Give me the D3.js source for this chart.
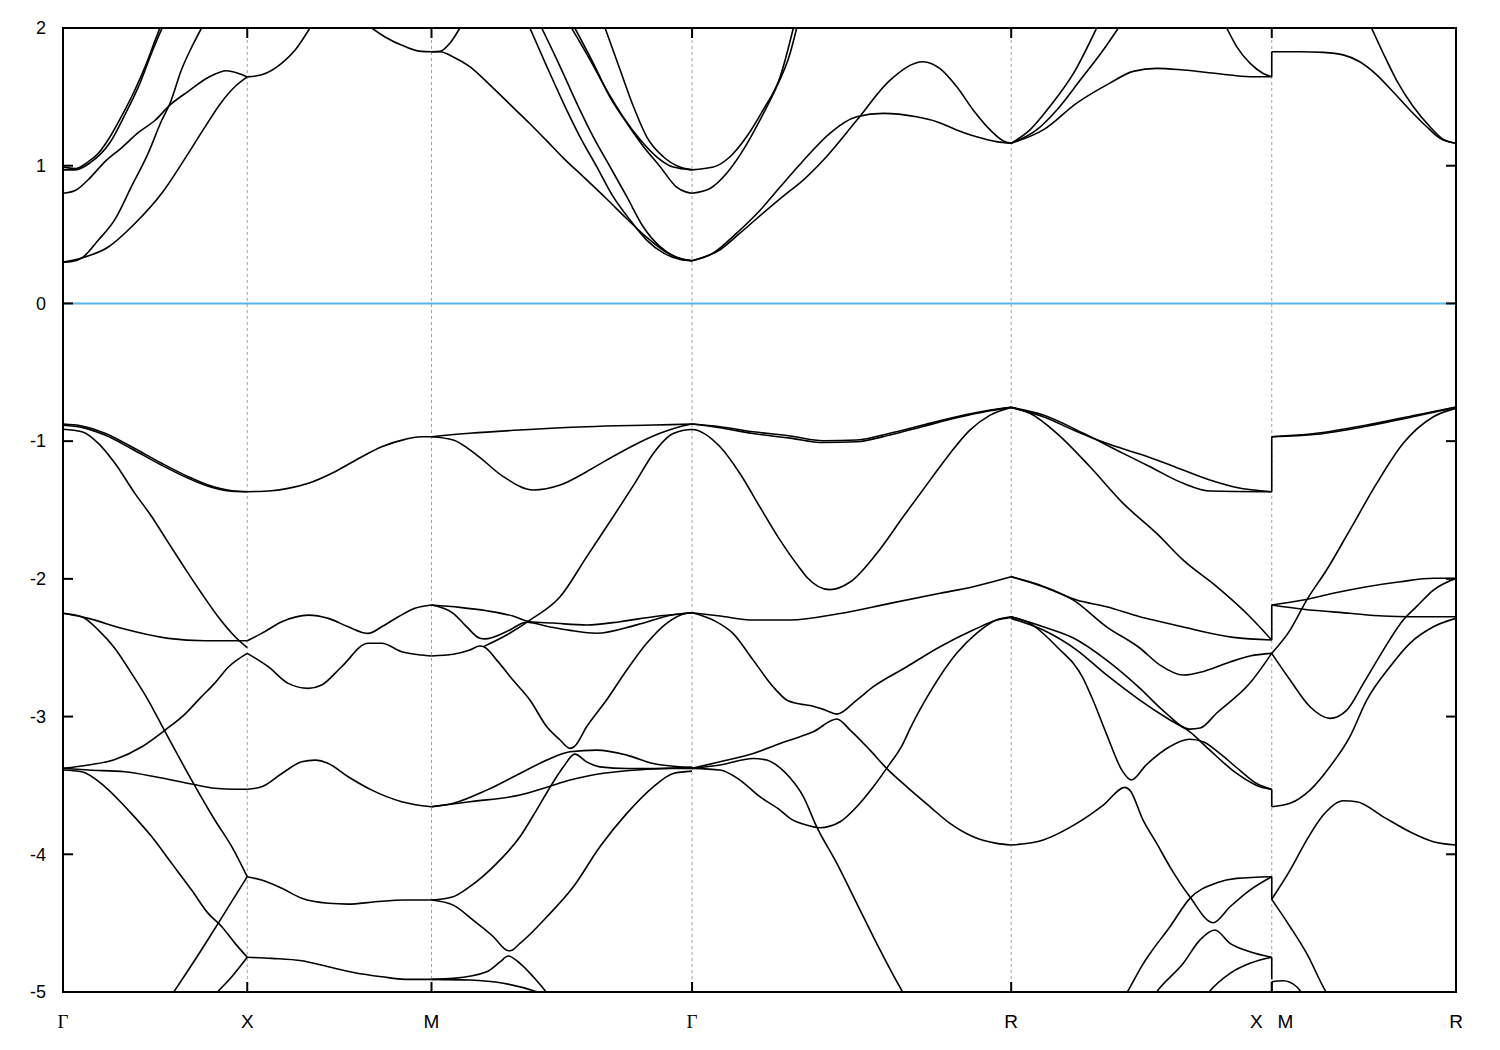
<!DOCTYPE html>
<html><head><meta charset="utf-8">
<script src="https://cdn.jsdelivr.net/npm/d3@7"></script>
<style>body{margin:0;background:#fff}</style>
</head><body>
<svg id="chart" width="1500" height="1050"></svg>
<script>
// high-symmetry points along the k-path (path distance, 2π/a units)
const kTicks = [0, 0.5, 1.0, 1.7071, 2.5731, 3.2802, 3.7802];
const kLabels = ["Γ", "X", "M", "Γ", "R", "X\u2002 M", "R"];
const yTicks = [-5, -4, -3, -2, -1, 0, 1, 2];

// conduction bands (k, E)
const c01 = [[0,0.99],[0.033,0.98],[0.069,1.03],[0.096,1.09],[0.123,1.19],[0.159,1.36],[0.195,1.55],[0.223,1.72],[0.250,1.91],[0.263,2.0]];
const c02 = [[0,0.97],[0.033,0.97],[0.073,1.02],[0.128,1.17],[0.168,1.37],[0.209,1.60],[0.242,1.83],[0.269,2.0]];
const c03 = [[0,0.80],[0.033,0.82],[0.069,0.90],[0.114,1.03],[0.159,1.13],[0.204,1.24],[0.250,1.33],[0.290,1.44],[0.340,1.54],[0.394,1.64],[0.444,1.69],[0.471,1.675],[0.5,1.645]];
const c04 = [[0,0.30],[0.025,0.305],[0.051,0.33],[0.096,0.46],[0.141,0.61],[0.186,0.85],[0.231,1.09],[0.268,1.33],[0.290,1.45],[0.322,1.70],[0.349,1.86],[0.376,2.0]];
const c05 = [[0,0.30],[0.051,0.33],[0.123,0.41],[0.195,0.58],[0.268,0.80],[0.340,1.09],[0.385,1.28],[0.431,1.465],[0.467,1.575],[0.5,1.645]];
const c06 = [[0.5,1.645],[0.539,1.66],[0.594,1.745],[0.630,1.84],[0.670,2.0]];
const c07 = [[0.838,2.0],[0.874,1.935],[0.928,1.865],[0.973,1.83],[1.0,1.828]];
const c08 = [[1.0,1.828],[1.023,1.83],[1.050,1.89],[1.077,2.0]];
const c09 = [[1.0,1.828],[1.023,1.828],[1.059,1.79],[1.104,1.72],[1.159,1.585],[1.213,1.445],[1.267,1.305],[1.313,1.18],[1.358,1.055],[1.412,0.92],[1.475,0.76],[1.530,0.615],[1.584,0.48],[1.638,0.37],[1.683,0.32],[1.707,0.31]];
const c10 = [[1.267,2.0],[1.313,1.72],[1.358,1.455],[1.403,1.21],[1.448,0.995],[1.493,0.775],[1.539,0.605],[1.584,0.46],[1.630,0.365],[1.675,0.32],[1.707,0.31]];
const c11 = [[1.299,2.0],[1.349,1.72],[1.394,1.455],[1.439,1.21],[1.484,0.995],[1.530,0.775],[1.575,0.555],[1.621,0.41],[1.665,0.335],[1.707,0.31]];
const c12 = [[1.471,2.0],[1.512,1.695],[1.548,1.43],[1.584,1.21],[1.629,1.065],[1.674,0.99],[1.707,0.97]];
const c13 = [[1.380,2.0],[1.430,1.77],[1.475,1.55],[1.520,1.355],[1.566,1.19],[1.611,1.065],[1.656,0.99],[1.707,0.97]];
const c14 = [[1.389,2.0],[1.439,1.745],[1.484,1.50],[1.530,1.31],[1.575,1.14],[1.620,0.995],[1.665,0.845],[1.690,0.81],[1.707,0.80]];
const c15 = [[1.707,0.97],[1.765,0.99],[1.810,1.065],[1.855,1.21],[1.900,1.405],[1.946,1.645],[1.982,2.0]];
const c16 = [[1.707,0.80],[1.756,0.835],[1.801,0.945],[1.846,1.115],[1.891,1.33],[1.937,1.575],[1.973,1.815],[1.991,2.0]];
const c17 = [[1.707,0.31],[1.764,0.365],[1.828,0.51],[1.891,0.675],[1.946,0.845],[2.0,1.01],[2.027,1.09],[2.081,1.235],[2.154,1.355],[2.226,1.38],[2.316,1.355],[2.371,1.32],[2.425,1.26],[2.479,1.21],[2.533,1.175],[2.573,1.163]];
const c18 = [[1.707,0.31],[1.783,0.39],[1.837,0.51],[1.910,0.68],[1.964,0.80],[2.0,0.875],[2.063,1.04],[2.154,1.33],[2.244,1.62],[2.334,1.755],[2.380,1.705],[2.425,1.575],[2.470,1.405],[2.516,1.26],[2.552,1.18],[2.573,1.163]];
const c19 = [[2.573,1.163],[2.624,1.26],[2.678,1.43],[2.742,1.67],[2.805,2.0]];
const c20 = [[2.573,1.163],[2.642,1.26],[2.697,1.405],[2.760,1.62],[2.823,1.84],[2.864,2.0]];
const c21 = [[2.573,1.163],[2.660,1.26],[2.751,1.455],[2.841,1.60],[2.904,1.685],[2.968,1.707],[3.040,1.695],[3.131,1.67],[3.221,1.646],[3.280,1.646]];
const c22 = [[3.158,2.0],[3.185,1.865],[3.221,1.745],[3.257,1.67],[3.280,1.646]];
const c23 = [[3.280,1.828],[3.357,1.828],[3.420,1.823],[3.474,1.805],[3.519,1.755],[3.565,1.66],[3.610,1.535],[3.655,1.405],[3.700,1.285],[3.736,1.20],[3.780,1.163]];
const c24 = [[3.551,2.0],[3.583,1.815],[3.619,1.62],[3.664,1.43],[3.709,1.285],[3.746,1.19],[3.780,1.163]];

// valence bands (k, E)
const v01 = [[0,-0.876],[0.051,-0.89],[0.114,-0.943],[0.186,-1.041],[0.268,-1.161],[0.340,-1.258],[0.394,-1.319],[0.458,-1.36],[0.5,-1.367]];
const v02 = [[0,-0.885],[0.051,-0.90],[0.114,-0.956],[0.186,-1.055],[0.268,-1.175],[0.340,-1.27],[0.394,-1.328],[0.458,-1.364],[0.5,-1.367]];
const v03 = [[0.5,-1.367],[0.566,-1.36],[0.611,-1.343],[0.666,-1.306],[0.738,-1.222],[0.811,-1.113],[0.865,-1.041],[0.928,-0.987],[0.973,-0.968],[1.0,-0.968]];
const v04 = [[0,-0.914],[0.051,-0.932],[0.096,-1.016],[0.141,-1.161],[0.195,-1.379],[0.241,-1.549],[0.277,-1.70],[0.322,-1.887],[0.376,-2.105],[0.421,-2.275],[0.467,-2.42],[0.5,-2.50]];
const v05 = [[0,-2.25],[0.069,-2.287],[0.159,-2.359],[0.286,-2.432],[0.385,-2.449],[0.5,-2.449]];
const v06 = [[0,-2.25],[0.051,-2.275],[0.096,-2.372],[0.141,-2.505],[0.186,-2.686],[0.231,-2.88],[0.277,-3.11],[0.349,-3.461],[0.412,-3.751],[0.458,-3.945],[0.5,-4.163]];
const v07 = [[0.5,-2.449],[0.539,-2.396],[0.594,-2.311],[0.666,-2.263],[0.720,-2.287],[0.774,-2.348],[0.828,-2.396],[0.865,-2.348],[0.910,-2.275],[0.955,-2.214],[1.0,-2.19]];
const v08 = [[0.5,-2.541],[0.557,-2.638],[0.611,-2.759],[0.666,-2.795],[0.702,-2.771],[0.756,-2.638],[0.828,-2.468],[0.865,-2.468],[0.919,-2.529],[0.973,-2.553],[1.0,-2.56]];
const v09 = [[0,-3.376],[0.069,-3.352],[0.141,-3.311],[0.214,-3.219],[0.277,-3.098],[0.331,-2.982],[0.372,-2.866],[0.412,-2.757],[0.449,-2.64],[0.5,-2.541]];
const v10 = [[0,-3.376],[0.069,-3.388],[0.168,-3.401],[0.250,-3.437],[0.349,-3.49],[0.412,-3.521],[0.467,-3.528],[0.5,-3.528]];
const v11 = [[0,-3.388],[0.051,-3.401],[0.114,-3.51],[0.177,-3.679],[0.241,-3.873],[0.295,-4.066],[0.349,-4.26],[0.394,-4.429],[0.431,-4.526],[0.467,-4.647],[0.5,-4.748]];
const v12 = [[0.288,-5.05],[0.299,-5.006],[0.358,-4.768],[0.421,-4.502],[0.5,-4.163]];
const v13 = [[0.402,-5.05],[0.417,-5.006],[0.458,-4.889],[0.5,-4.748]];
const v14 = [[0.5,-4.163],[0.539,-4.187],[0.594,-4.247],[0.648,-4.32],[0.720,-4.356],[0.774,-4.362],[0.847,-4.345],[0.928,-4.332],[1.0,-4.332]];
const v15 = [[0.5,-4.748],[0.566,-4.756],[0.648,-4.773],[0.720,-4.817],[0.792,-4.86],[0.865,-4.889],[0.928,-4.908],[1.0,-4.908]];
const v16 = [[0.5,-3.528],[0.539,-3.51],[0.594,-3.413],[0.648,-3.328],[0.684,-3.316],[0.720,-3.34],[0.774,-3.437],[0.838,-3.534],[0.919,-3.618],[1.0,-3.655]];
const v17 = [[1.0,-0.968],[1.104,-0.943],[1.240,-0.919],[1.421,-0.895],[1.602,-0.883],[1.707,-0.876]];
const v18 = [[1.0,-0.968],[1.059,-0.992],[1.123,-1.101],[1.195,-1.258],[1.276,-1.355],[1.349,-1.319],[1.421,-1.222],[1.475,-1.138],[1.548,-1.031],[1.620,-0.943],[1.674,-0.895],[1.707,-0.876]];
const v19 = [[1.0,-2.19],[1.077,-2.207],[1.150,-2.232],[1.221,-2.27],[1.267,-2.311],[1.330,-2.321],[1.421,-2.335],[1.512,-2.311],[1.602,-2.275],[1.707,-2.246]];
const v20 = [[1.0,-2.19],[1.059,-2.25],[1.095,-2.347],[1.131,-2.431],[1.145,-2.436],[1.204,-2.383],[1.258,-2.315],[1.322,-2.349],[1.376,-2.374],[1.448,-2.395],[1.557,-2.334],[1.656,-2.261],[1.707,-2.246]];
const v21 = [[1.141,-2.492],[1.204,-2.408],[1.267,-2.30],[1.349,-2.13],[1.421,-1.84],[1.493,-1.549],[1.557,-1.283],[1.602,-1.089],[1.656,-0.944],[1.707,-0.915],[1.783,-1.041],[1.837,-1.235],[1.891,-1.477],[1.946,-1.719],[2.0,-1.925],[2.018,-1.986],[2.081,-2.078],[2.136,-2.023],[2.208,-1.816],[2.280,-1.549],[2.353,-1.283],[2.407,-1.089],[2.461,-0.92],[2.516,-0.811],[2.573,-0.755]];
const v22 = [[1.0,-2.56],[1.059,-2.548],[1.104,-2.517],[1.131,-2.488],[1.142,-2.493],[1.177,-2.59],[1.221,-2.735],[1.267,-2.88],[1.313,-3.074],[1.349,-3.17],[1.376,-3.231],[1.389,-3.214],[1.421,-3.074],[1.475,-2.88],[1.530,-2.662],[1.584,-2.468],[1.638,-2.323],[1.692,-2.25],[1.707,-2.246]];
const v23 = [[1.0,-3.655],[1.059,-3.63],[1.150,-3.534],[1.240,-3.413],[1.313,-3.316],[1.376,-3.256],[1.448,-3.244],[1.530,-3.28],[1.602,-3.341],[1.674,-3.365],[1.707,-3.37]];
const v24 = [[1.0,-3.655],[1.104,-3.618],[1.240,-3.57],[1.313,-3.514],[1.376,-3.461],[1.466,-3.412],[1.584,-3.383],[1.707,-3.369]];
const v25 = [[1.0,-4.332],[1.059,-4.308],[1.104,-4.235],[1.177,-4.066],[1.240,-3.873],[1.285,-3.679],[1.331,-3.473],[1.358,-3.365],[1.389,-3.273],[1.421,-3.329],[1.457,-3.365],[1.530,-3.377],[1.620,-3.377],[1.707,-3.377]];
const v26 = [[1.0,-4.332],[1.059,-4.369],[1.113,-4.478],[1.168,-4.599],[1.204,-4.696],[1.213,-4.701],[1.240,-4.647],[1.313,-4.454],[1.385,-4.236],[1.457,-3.945],[1.530,-3.703],[1.602,-3.51],[1.656,-3.413],[1.707,-3.396]];
const v27 = [[1.0,-4.908],[1.059,-4.901],[1.150,-4.853],[1.186,-4.782],[1.208,-4.739],[1.240,-4.792],[1.276,-4.889],[1.313,-5.006],[1.325,-5.05]];
const v28 = [[1.0,-4.908],[1.104,-4.913],[1.195,-4.937],[1.285,-4.998],[1.308,-5.02],[1.33,-5.05]];
const v29 = [[1.707,-0.876],[1.783,-0.895],[1.873,-0.932],[1.973,-0.963],[2.063,-0.997],[2.154,-0.992],[2.244,-0.943],[2.334,-0.883],[2.425,-0.823],[2.516,-0.775],[2.573,-0.755]];
const v30 = [[1.707,-0.876],[1.783,-0.903],[1.873,-0.945],[1.973,-0.978],[2.063,-1.01],[2.154,-1.004],[2.244,-0.955],[2.334,-0.893],[2.425,-0.83],[2.516,-0.779],[2.573,-0.755]];
const v31 = [[1.707,-2.246],[1.783,-2.27],[1.873,-2.299],[1.973,-2.299],[2.109,-2.251],[2.244,-2.178],[2.380,-2.105],[2.470,-2.057],[2.573,-1.985]];
const v32 = [[1.707,-2.246],[1.764,-2.299],[1.818,-2.396],[1.873,-2.59],[1.927,-2.783],[1.964,-2.88],[2.0,-2.909],[2.027,-2.92],[2.068,-2.952],[2.100,-2.982],[2.154,-2.88],[2.199,-2.783],[2.290,-2.638],[2.380,-2.493],[2.470,-2.372],[2.534,-2.299],[2.573,-2.28]];
const v33 = [[1.707,-3.376],[1.783,-3.328],[1.873,-3.268],[1.946,-3.195],[2.0,-3.146],[2.036,-3.11],[2.100,-3.018],[2.136,-3.098],[2.190,-3.244],[2.235,-3.376],[2.290,-3.51],[2.353,-3.655],[2.407,-3.776],[2.470,-3.873],[2.534,-3.921],[2.573,-3.933]];
const v34 = [[1.707,-3.376],[1.783,-3.388],[1.837,-3.461],[1.891,-3.582],[1.946,-3.679],[1.973,-3.739],[2.018,-3.788],[2.054,-3.807],[2.109,-3.764],[2.154,-3.655],[2.199,-3.51],[2.235,-3.376],[2.280,-3.194],[2.299,-3.086],[2.362,-2.783],[2.425,-2.541],[2.479,-2.396],[2.533,-2.299],[2.573,-2.275]];
const v35 = [[1.707,-3.376],[1.783,-3.352],[1.873,-3.304],[1.910,-3.316],[1.946,-3.373],[1.973,-3.445],[2.009,-3.581],[2.045,-3.799],[2.100,-4.066],[2.154,-4.356],[2.208,-4.647],[2.280,-5.006],[2.29,-5.05]];
const v36 = [[2.573,-0.755],[2.660,-0.823],[2.742,-0.919],[2.832,-1.016],[2.922,-1.094],[3.004,-1.173],[3.112,-1.282],[3.185,-1.336],[3.280,-1.367]];
const v37 = [[2.573,-0.755],[2.660,-0.81],[2.769,-0.943],[2.877,-1.089],[2.950,-1.186],[3.040,-1.306],[3.112,-1.362],[3.280,-1.367]];
const v38 = [[2.573,-0.755],[2.624,-0.798],[2.697,-0.943],[2.787,-1.186],[2.877,-1.452],[2.968,-1.67],[3.040,-1.864],[3.131,-2.057],[3.221,-2.275],[3.280,-2.444]];
const v39 = [[2.573,-1.985],[2.660,-2.057],[2.751,-2.154],[2.832,-2.203],[2.922,-2.275],[2.976,-2.31],[3.040,-2.35],[3.176,-2.425],[3.280,-2.444]];
const v40 = [[2.573,-1.985],[2.651,-2.045],[2.742,-2.154],[2.832,-2.348],[2.922,-2.502],[2.977,-2.626],[3.040,-2.698],[3.099,-2.669],[3.167,-2.604],[3.221,-2.56],[3.280,-2.541]];
const v41 = [[2.573,-2.275],[2.660,-2.348],[2.742,-2.43],[2.832,-2.59],[2.922,-2.793],[2.990,-2.967],[3.058,-3.091],[3.086,-3.083],[3.131,-2.974],[3.221,-2.757],[3.280,-2.541]];
const v42 = [[2.573,-2.287],[2.660,-2.372],[2.751,-2.517],[2.832,-2.698],[2.922,-2.88],[3.004,-3.025],[3.058,-3.111],[3.112,-3.244],[3.185,-3.413],[3.248,-3.51],[3.280,-3.528]];
const v43 = [[2.573,-2.275],[2.624,-2.323],[2.697,-2.493],[2.768,-2.72],[2.795,-2.88],[2.831,-3.122],[2.876,-3.40],[2.899,-3.461],[2.939,-3.352],[3.003,-3.219],[3.057,-3.165],[3.094,-3.183],[3.139,-3.268],[3.193,-3.389],[3.239,-3.486],[3.280,-3.528]];
const v44 = [[2.573,-3.933],[2.660,-3.896],[2.751,-3.776],[2.823,-3.643],[2.882,-3.514],[2.895,-3.534],[2.931,-3.752],[2.968,-3.921],[3.004,-4.091],[3.058,-4.309],[3.121,-4.497],[3.167,-4.381],[3.221,-4.26],[3.280,-4.163]];
const v45 = [[2.877,-5.05],[2.887,-5.006],[2.932,-4.792],[2.950,-4.72],[3.004,-4.526],[3.058,-4.32],[3.131,-4.207],[3.185,-4.175],[3.280,-4.163]];
const v46 = [[2.955,-5.05],[2.966,-5.006],[3.040,-4.792],[3.085,-4.623],[3.126,-4.55],[3.167,-4.647],[3.221,-4.708],[3.280,-4.748]];
const v47 = [[3.095,-5.05],[3.108,-5.006],[3.167,-4.865],[3.221,-4.792],[3.280,-4.748]];
const v48 = [[3.280,-0.968],[3.402,-0.943],[3.538,-0.883],[3.673,-0.81],[3.780,-0.752]];
const v49 = [[3.280,-0.968],[3.402,-0.95],[3.538,-0.892],[3.673,-0.818],[3.780,-0.755]];
const v50 = [[3.280,-2.541],[3.330,-2.372],[3.375,-2.154],[3.429,-1.936],[3.492,-1.646],[3.565,-1.307],[3.637,-1.016],[3.719,-0.823],[3.780,-0.762]];
const v51 = [[3.280,-2.19],[3.366,-2.154],[3.447,-2.105],[3.538,-2.057],[3.629,-2.021],[3.719,-1.996],[3.780,-1.996]];
const v52 = [[3.280,-2.19],[3.366,-2.221],[3.492,-2.25],[3.583,-2.27],[3.655,-2.275],[3.780,-2.275]];
const v53 = [[3.280,-2.541],[3.330,-2.735],[3.384,-2.929],[3.438,-3.013],[3.484,-2.953],[3.529,-2.759],[3.583,-2.517],[3.637,-2.299],[3.673,-2.202],[3.719,-2.081],[3.780,-1.996]];
const v54 = [[3.280,-3.655],[3.330,-3.63],[3.384,-3.534],[3.438,-3.364],[3.492,-3.147],[3.538,-2.88],[3.601,-2.638],[3.655,-2.468],[3.719,-2.348],[3.780,-2.287]];
const v55 = [[3.280,-4.327],[3.330,-4.115],[3.375,-3.897],[3.420,-3.715],[3.474,-3.611],[3.511,-3.618],[3.583,-3.728],[3.655,-3.837],[3.719,-3.909],[3.780,-3.933]];
const v56 = [[3.280,-4.327],[3.330,-4.526],[3.375,-4.72],[3.429,-5.006],[3.44,-5.05]];
const v57 = [[3.280,-4.926],[3.311,-4.918],[3.348,-4.962],[3.361,-5.006],[3.37,-5.05]];

// band values on either side of the X|M break (E at X, E at M)
const xmJumps = [[1.646,1.828],[-1.367,-0.968],[-2.444,-2.19],[-3.528,-3.655],[-4.163,-4.327],[-4.748,-4.908],[-4.926,-5.05]];

const bands = [c01,c02,c03,c04,c05,c06,c07,c08,c09,c10,c11,c12,c13,c14,c15,c16,c17,c18,c19,c20,c21,c22,c23,c24,
  v01,v02,v03,v04,v05,v06,v07,v08,v09,v10,v11,v12,v13,v14,v15,v16,v17,v18,v19,v20,v21,v22,v23,v24,v25,v26,v27,v28,v29,v30,
  v31,v32,v33,v34,v35,v36,v37,v38,v39,v40,v41,v42,v43,v44,v45,v46,v47,v48,v49,v50,v51,v52,v53,v54,v55,v56,v57];

const svg = d3.select("#chart");
const L = 63, R = 1456, T = 28, B = 992;
const x = d3.scaleLinear().domain([0, kTicks[kTicks.length-1]]).range([L, R]);
const y = d3.scaleLinear().domain([-5, 2]).range([B, T]);

svg.append("defs").append("clipPath").attr("id","clip")
  .append("rect").attr("x",L).attr("y",T).attr("width",R-L).attr("height",B-T);

// dashed vertical lines at interior symmetry points
svg.append("g").selectAll("line").data(kTicks.slice(1,-1)).join("line")
  .attr("x1",d=>x(d)).attr("x2",d=>x(d)).attr("y1",T).attr("y2",B)
  .attr("stroke","#a0a0a0").attr("stroke-width",1).attr("stroke-dasharray","3,3");

// zero line
svg.append("line").attr("x1",L).attr("x2",R).attr("y1",y(0)).attr("y2",y(0))
  .attr("stroke","#56b4e9").attr("stroke-width",2);

const line = d3.line().x(d=>x(d[0])).y(d=>y(d[1])).curve(d3.curveMonotoneX);
const g = svg.append("g").attr("clip-path","url(#clip)");
g.selectAll("path.band").data(bands).join("path").attr("class","band")
  .attr("d", line).attr("fill","none").attr("stroke","#000").attr("stroke-width",1.6)
  .attr("stroke-linejoin","round");
g.selectAll("line.jump").data(xmJumps).join("line").attr("class","jump")
  .attr("x1",x(kTicks[5])).attr("x2",x(kTicks[5]))
  .attr("y1",d=>y(d[0])).attr("y2",d=>y(d[1]))
  .attr("stroke","#000").attr("stroke-width",1.6);

// border
svg.append("rect").attr("x",L).attr("y",T).attr("width",R-L).attr("height",B-T)
  .attr("fill","none").attr("stroke","#000").attr("stroke-width",2);

// y ticks (inward, both sides)
const tk = 10;
yTicks.forEach(v=>{
  svg.append("line").attr("x1",L).attr("x2",L+tk).attr("y1",y(v)).attr("y2",y(v)).attr("stroke","#000").attr("stroke-width",2);
  svg.append("line").attr("x1",R-tk).attr("x2",R).attr("y1",y(v)).attr("y2",y(v)).attr("stroke","#000").attr("stroke-width",2);
  svg.append("text").attr("x",46).attr("y",y(v)).attr("dy","0.35em").attr("text-anchor","end")
    .attr("font-family","Liberation Sans, Arial, sans-serif").attr("font-size",18).text(v);
});
// x ticks (inward, top and bottom)
kTicks.forEach((k,i)=>{
  svg.append("line").attr("x1",x(k)).attr("x2",x(k)).attr("y1",B).attr("y2",B-tk).attr("stroke","#000").attr("stroke-width",2);
  svg.append("line").attr("x1",x(k)).attr("x2",x(k)).attr("y1",T).attr("y2",T+tk).attr("stroke","#000").attr("stroke-width",2);
  const lab = kLabels[i];
  svg.append("text").attr("x",x(k)).attr("y",1028).attr("text-anchor","middle")
    .attr("font-family", lab==="Γ" ? "Liberation Serif, DejaVu Serif, serif" : "Liberation Sans, Arial, sans-serif")
    .attr("font-size",19).attr("xml:space","preserve").text(lab);
});
</script>
</body></html>
